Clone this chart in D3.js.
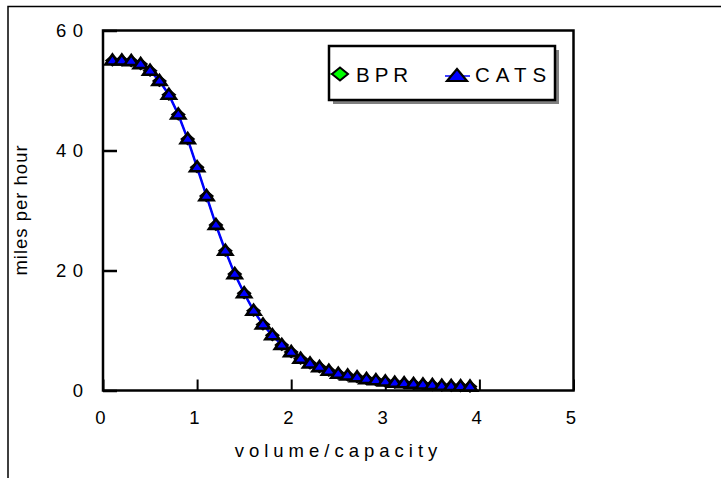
<!DOCTYPE html>
<html>
<head>
<meta charset="utf-8">
<script src="https://cdn.jsdelivr.net/npm/d3@7/dist/d3.min.js"></script>
<style>
  html, body { margin: 0; padding: 0; background: #fff; }
  svg { display: block; }
  text { font-family: "Liberation Sans", Arial, sans-serif; fill: #000; }
</style>
</head>
<body>
<svg id="chart" width="721" height="478"></svg>
<script>
// ---- data ----
const vcRatio = [0.1,0.2,0.3,0.4,0.5,0.6,0.7,0.8,0.9,1.0,
                 1.1,1.2,1.3,1.4,1.5,1.6,1.7,1.8,1.9,2.0,
                 2.1,2.2,2.3,2.4,2.5,2.6,2.7,2.8,2.9,3.0,
                 3.1,3.2,3.3,3.4,3.5,3.6,3.7,3.8,3.9];
const bprSpeed = [55.0,55.0,54.9,54.4,53.3,51.6,49.3,46.0,41.9,37.2,
                  32.4,27.6,23.3,19.4,16.2,13.3,11.0,9.2,7.6,6.4,
                  5.3,4.5,3.9,3.3,2.8,2.5,2.2,1.9,1.7,1.5,
                  1.3,1.2,1.1,1.0,0.9,0.8,0.75,0.7,0.65];
const catsSpeed = [55.0,55.0,54.9,54.4,53.3,51.6,49.3,46.0,41.9,37.2,
                   32.4,27.6,23.3,19.4,16.2,13.3,11.0,9.2,7.6,6.4,
                   5.3,4.5,3.9,3.3,2.8,2.5,2.2,1.9,1.7,1.5,
                   1.3,1.2,1.1,1.0,0.9,0.8,0.75,0.7,0.65];
const xTicks = [0,1,2,3,4,5];
const yTicks = [0,20,40,60];
const seriesNames = ["BPR","CATS"];
const xTitle = "volume/capacity";
const yTitle = "miles per hour";

// ---- layout ----
const svg = d3.select("#chart");
const L = 103, R = 573.5, T = 30.5, B = 390.5;
const x = d3.scaleLinear().domain([0,5]).range([L,R]);
const y = d3.scaleLinear().domain([0,60]).range([B,T]);

svg.append("rect").attr("width",721).attr("height",478).attr("fill","#fff");

// outer frame (cut off at right and bottom)
svg.append("path").attr("d","M8,478V6.5H721").attr("fill","none")
  .attr("stroke","#000").attr("stroke-width",1.5);

// plot border
svg.append("rect").attr("x",L).attr("y",T).attr("width",R-L).attr("height",B-T)
  .attr("fill","none").attr("stroke","#000").attr("stroke-width",2.5);

// axes ticks via d3 axes
const yAxis = d3.axisRight(y).tickValues(yTicks).tickSize(14).tickFormat("");
const gy = svg.append("g").attr("transform",`translate(${L},0)`).call(yAxis);
gy.select(".domain").remove();
gy.selectAll("line").attr("stroke","#000").attr("stroke-width",2.5);

const xAxis = d3.axisTop(x).tickValues(xTicks).tickSize(11).tickFormat("");
const gx = svg.append("g").attr("transform",`translate(0,${B})`).call(xAxis);
gx.select(".domain").remove();
gx.selectAll("line").attr("stroke","#000").attr("stroke-width",2);

// tick labels
svg.append("g").selectAll("text").data(yTicks).join("text")
  .attr("x", 83 + 6.5).attr("y", d => y(d) + 6.6)
  .attr("text-anchor","end")
  .style("font-size","18.5px").style("letter-spacing","6.5px")
  .text(d => String(d));

svg.append("g").selectAll("text").data(xTicks).join("text")
  .attr("x", d => x(d) - 2.7).attr("y", 423.5)
  .attr("text-anchor","middle")
  .style("font-size","18.5px")
  .text(d => String(d));

// axis titles
svg.append("text").attr("x", 336 + 2.5).attr("y", 457)
  .attr("text-anchor","middle").style("font-size","18.5px").style("letter-spacing","5px")
  .text(xTitle);

svg.append("text").attr("transform","translate(27,210) rotate(-90)")
  .attr("text-anchor","middle").style("font-size","18.5px").style("letter-spacing","1px")
  .text(yTitle);

// ---- series ----
const diamond = "M0,-5L6,0L0,5L-6,0Z";
const triangle = "M0,-6L7,4L-7,4Z";

const bpr = vcRatio.map((v,i) => ({x:v, y:bprSpeed[i]}));
const cats = vcRatio.map((v,i) => ({x:v, y:catsSpeed[i]}));
const line = d3.line().x(d => x(d.x)).y(d => y(d.y));

svg.append("path").datum(bpr).attr("d", line).attr("fill","none")
  .attr("stroke","#00ff00").attr("stroke-width",1.5);
svg.append("g").selectAll("path").data(bpr).join("path")
  .attr("d", diamond).attr("transform", d => `translate(${x(d.x)},${y(d.y)})`)
  .attr("fill","#00ff00").attr("stroke","#000").attr("stroke-width",2);

svg.append("path").datum(cats).attr("d", line).attr("fill","none")
  .attr("stroke","#0000ff").attr("stroke-width",2.5);
svg.append("g").selectAll("path").data(cats).join("path")
  .attr("d", triangle).attr("transform", d => `translate(${x(d.x)},${y(d.y)})`)
  .attr("fill","#0000ff").attr("stroke","#000").attr("stroke-width",2.6)
  .attr("stroke-linejoin","miter").attr("stroke-miterlimit",10);

// ---- legend ----
const lg = svg.append("g");
lg.append("rect").attr("x",333).attr("y",50).attr("width",226).attr("height",54).attr("fill","#808080");
lg.append("rect").attr("x",329).attr("y",46).attr("width",226).attr("height",54)
  .attr("fill","#fff").attr("stroke","#000").attr("stroke-width",2.5);

lg.append("line").attr("x1",330).attr("x2",346).attr("y1",74).attr("y2",74)
  .attr("stroke","#00ff00").attr("stroke-width",1.5);
lg.append("path").attr("d","M0,-6.5L8,0L0,6.5L-8,0Z").attr("transform","translate(340,74)")
  .attr("fill","#00ff00").attr("stroke","#000").attr("stroke-width",2);
lg.append("text").attr("x",356).attr("y",81.7).style("font-size","20.5px").style("letter-spacing","5px")
  .text(seriesNames[0]);

lg.append("line").attr("x1",445).attr("x2",470).attr("y1",76).attr("y2",76)
  .attr("stroke","#0000ff").attr("stroke-width",1.5);
lg.append("path").attr("d","M0,-7L10,5L-10,5Z").attr("transform","translate(457,76)")
  .attr("fill","#0000ff").attr("stroke","#000").attr("stroke-width",2.2);
lg.append("text").attr("x",475).attr("y",81.7).style("font-size","20.5px").style("letter-spacing","6px")
  .text(seriesNames[1]);
</script>
</body>
</html>
